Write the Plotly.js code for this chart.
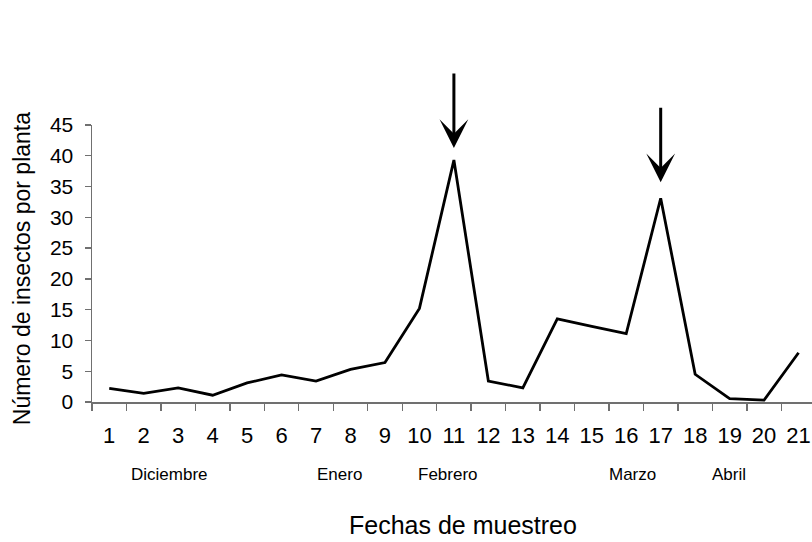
<!DOCTYPE html>
<html>
<head>
<meta charset="utf-8">
<script src="https://cdn.plot.ly/plotly-3.0.1.min.js"></script>
<style>
  html, body { margin: 0; padding: 0; background: #ffffff; }
  #chart { width: 812px; height: 542px; }
</style>
</head>
<body>
<div id="chart"></div>
<script>
// ---- data ----
const fechas = ["1","2","3","4","5","6","7","8","9","10","11","12","13","14","15","16","17","18","19","20","21"];
const insectos = [2.2, 1.4, 2.3, 1.1, 3.1, 4.4, 3.4, 5.3, 6.4, 15.2, 39.3, 3.4, 2.3, 13.5, 12.3, 11.1, 33.1, 4.5, 0.55, 0.3, 8.0];
const meses = ["Diciembre", "Enero", "Febrero", "Marzo", "Abril"];
const picos = ["11", "17"];
const yTicks = [0, 5, 10, 15, 20, 25, 30, 35, 40, 45];

// ---- layout helpers (placement only) ----
const monthLabelX = [1.74, 6.68, 9.84, 15.17, 17.98];
const arrowStyle = [
  { standoff: 12, ay: -88 },
  { standoff: 16, ay: -92 }
];
const FONT = "Arial, 'Liberation Sans', sans-serif";

const trace = {
  x: fechas,
  y: insectos,
  type: "scatter",
  mode: "lines",
  line: { color: "#000000", width: 2.8 },
  hoverinfo: "x+y",
  cliponaxis: false
};

const annotations = [];
meses.forEach((m, i) => {
  annotations.push({
    x: monthLabelX[i], xref: "x",
    y: -0.26, yref: "paper",
    text: m, showarrow: false,
    xanchor: "center", yanchor: "middle",
    font: { family: FONT, size: 17, color: "#000000" }
  });
});
picos.forEach((p, i) => {
  const idx = fechas.indexOf(p);
  annotations.push({
    x: idx, xref: "x",
    y: insectos[idx], yref: "y",
    text: "", showarrow: true,
    arrowhead: 3, arrowsize: 1.6, arrowwidth: 3, arrowcolor: "#000000",
    ax: 0, ay: arrowStyle[i].ay, axref: "pixel", ayref: "pixel",
    standoff: arrowStyle[i].standoff
  });
});
annotations.push({
  x: 0.515, xref: "paper", y: -0.444, yref: "paper",
  text: "Fechas de muestreo", showarrow: false,
  xanchor: "center", yanchor: "middle",
  font: { family: FONT, size: 25, color: "#000000" }
});
annotations.push({
  x: -0.097, xref: "paper", y: 0.48, yref: "paper",
  text: "Número de insectos por planta", showarrow: false,
  textangle: -90, xanchor: "center", yanchor: "middle",
  font: { family: FONT, size: 23, color: "#000000" }
});

const layout = {
  width: 812, height: 542,
  margin: { l: 92, r: 0, t: 125, b: 140, pad: 0 },
  paper_bgcolor: "#ffffff", plot_bgcolor: "#ffffff",
  showlegend: false,
  font: { family: FONT, color: "#000000" },
  xaxis: {
    type: "category",
    range: [-0.5, 20.39],
    tickson: "boundaries",
    ticks: "outside", ticklen: 7, tickwidth: 1.3, tickcolor: "#707070",
    showline: true, linecolor: "#707070", linewidth: 1.5,
    showgrid: false, zeroline: false,
    tickfont: { family: FONT, size: 22, color: "#000000" },
    ticklabelstandoff: 13,
    fixedrange: true
  },
  yaxis: {
    range: [0, 45],
    tickvals: yTicks,
    ticktext: yTicks.map(String),
    ticks: "outside", ticklen: 6, tickwidth: 1.3, tickcolor: "#707070",
    showline: true, linecolor: "#707070", linewidth: 1.5,
    showgrid: false, zeroline: false,
    tickfont: { family: FONT, size: 21, color: "#000000" },
    ticklabelstandoff: 7,
    fixedrange: true
  },
  annotations: annotations
};

Plotly.newPlot("chart", [trace], layout, { displayModeBar: false, staticPlot: true });
</script>
</body>
</html>
